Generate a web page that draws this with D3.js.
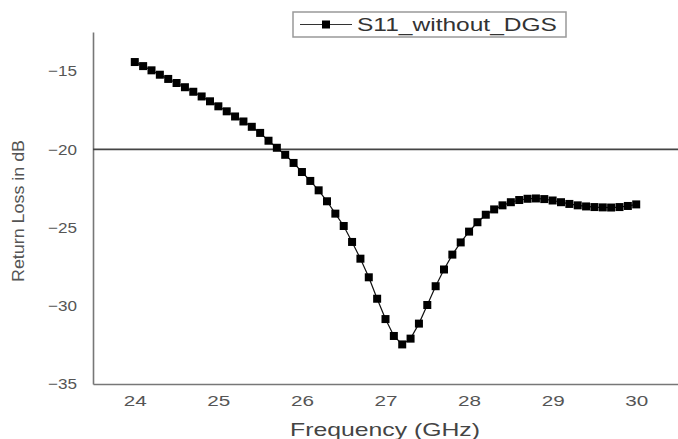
<!DOCTYPE html>
<html>
<head>
<meta charset="utf-8">
<script src="https://cdn.jsdelivr.net/npm/d3@7"></script>
<style>
  body { margin: 0; background: #fff; }
  text { font-family: "Liberation Sans", Arial, sans-serif; }
</style>
</head>
<body>
<div id="root"></div>
<script>
const freq = [24.0, 24.1, 24.2, 24.3, 24.4, 24.5, 24.6, 24.7, 24.8, 24.9,
  25.0, 25.1, 25.2, 25.3, 25.4, 25.5, 25.6, 25.7, 25.8, 25.9,
  26.0, 26.1, 26.2, 26.3, 26.4, 26.5, 26.6, 26.7, 26.8, 26.9,
  27.0, 27.1, 27.2, 27.3, 27.4, 27.5, 27.6, 27.7, 27.8, 27.9,
  28.0, 28.1, 28.2, 28.3, 28.4, 28.5, 28.6, 28.7, 28.8, 28.9,
  29.0, 29.1, 29.2, 29.3, 29.4, 29.5, 29.6, 29.7, 29.8, 29.9, 30.0];
const s11 = [-14.42, -14.68, -14.95, -15.23, -15.5, -15.76, -16.03, -16.32, -16.62, -16.93,
  -17.25, -17.57, -17.9, -18.22, -18.56, -18.95, -19.45, -19.9, -20.35, -20.87,
  -21.45, -22.02, -22.62, -23.32, -24.11, -24.9, -25.92, -26.99, -28.18, -29.55,
  -30.85, -31.93, -32.47, -32.1, -31.14, -29.95, -28.75, -27.68, -26.73, -25.95,
  -25.26, -24.66, -24.18, -23.84, -23.58, -23.38, -23.24, -23.16, -23.14, -23.18,
  -23.27, -23.38, -23.49, -23.58, -23.65, -23.69, -23.71, -23.72, -23.69, -23.62, -23.52];
const xTicks = [24, 25, 26, 27, 28, 29, 30];
const yTicks = [-15, -20, -25, -30, -35];
const refLevel = -20;
const seriesName = "S11_without_DGS";

const w = 678;
const h = 439;

const xScale = d3.scaleLinear().domain([23.5, 30.5]).range([93, 678]);
const yScale = d3.scaleLinear().domain([-35, -12.5]).range([384, 32]);

const svg = d3.select("#root")
  .append("svg")
  .attr("width", w)
  .attr("height", h);

// axes without tick marks
const xAxis = d3.axisBottom(xScale).tickValues(xTicks).tickFormat(d3.format("d"))
  .tickSize(0).tickPadding(11);
const yAxis = d3.axisLeft(yScale).tickValues(yTicks).tickFormat(d3.format("d"))
  .tickSize(0).tickPadding(16);

const gx = svg.append("g")
  .attr("transform", `translate(0, ${yScale(-35)})`)
  .call(xAxis);
const gy = svg.append("g")
  .attr("transform", `translate(${xScale(23.5)}, 0)`)
  .call(yAxis);

[gx, gy].forEach(g => {
  g.select(".domain").attr("stroke", "#777").attr("stroke-width", 1.6);
  g.selectAll("text")
    .attr("fill", "#555")
    .style("font-size", "15px")
    .style("font-family", "Liberation Sans, Arial, sans-serif");
});
// the labels in the picture are drawn wide
gx.selectAll("text").attr("textLength", 23).attr("lengthAdjust", "spacingAndGlyphs");
gy.selectAll("text").attr("textLength", 29).attr("lengthAdjust", "spacingAndGlyphs");

// reference line at -20 dB
svg.append("line")
  .attr("x1", xScale(23.5))
  .attr("x2", xScale(30.5))
  .attr("y1", yScale(refLevel))
  .attr("y2", yScale(refLevel))
  .attr("stroke", "#444")
  .attr("stroke-width", 1.6);

const data = freq.map((f, i) => [f, s11[i]]);

const line = d3.line()
  .x(d => xScale(d[0]))
  .y(d => yScale(d[1]));

svg.append("path")
  .datum(data)
  .attr("d", line)
  .attr("fill", "none")
  .attr("stroke", "#111")
  .attr("stroke-width", 1.2);

const ms = 8;
svg.selectAll("rect.pt")
  .data(data)
  .enter()
  .append("rect")
  .attr("class", "pt")
  .attr("x", d => xScale(d[0]) - ms / 2)
  .attr("y", d => yScale(d[1]) - ms / 2)
  .attr("width", ms)
  .attr("height", ms)
  .attr("fill", "#000");

// axis titles
svg.append("text")
  .attr("x", 385)
  .attr("y", 436)
  .attr("text-anchor", "middle")
  .attr("fill", "#444")
  .attr("textLength", 190)
  .attr("lengthAdjust", "spacingAndGlyphs")
  .style("font-size", "19px")
  .text("Frequency (GHz)");

svg.append("text")
  .attr("transform", "translate(24, 211) rotate(-90)")
  .attr("text-anchor", "middle")
  .attr("fill", "#555")
  .attr("textLength", 142)
  .attr("lengthAdjust", "spacingAndGlyphs")
  .style("font-size", "17px")
  .text("Return Loss in dB");

// legend
const legend = svg.append("g");
legend.append("rect")
  .attr("x", 293)
  .attr("y", 12)
  .attr("width", 273)
  .attr("height", 25)
  .attr("fill", "#fff")
  .attr("stroke", "#999")
  .attr("stroke-width", 1.5);
legend.append("line")
  .attr("x1", 300).attr("x2", 352)
  .attr("y1", 24.5).attr("y2", 24.5)
  .attr("stroke", "#333").attr("stroke-width", 1.2);
legend.append("rect")
  .attr("x", 326 - ms / 2).attr("y", 24.5 - ms / 2)
  .attr("width", ms).attr("height", ms)
  .attr("fill", "#000");
legend.append("text")
  .attr("x", 357)
  .attr("y", 31)
  .attr("fill", "#333")
  .attr("textLength", 200)
  .attr("lengthAdjust", "spacingAndGlyphs")
  .style("font-size", "18px")
  .text(seriesName);
</script>
</body>
</html>
